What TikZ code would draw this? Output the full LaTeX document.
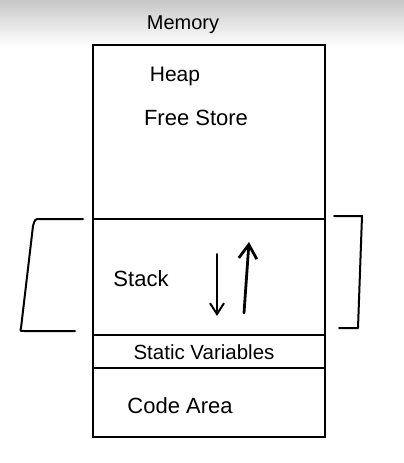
\documentclass[tikz,border=0pt]{standalone}
\usepackage{fontspec}
\setmainfont{Liberation Sans}
\usetikzlibrary{arrows.meta}
\begin{document}
\begin{tikzpicture}[x=1pt,y=-1pt,
  region/.style={draw, line width=2pt, inner sep=0pt, outer sep=0pt, minimum width=232pt},
  memtext/.style={inner sep=0pt, font=\fontsize{21}{24}\selectfont},
  pen/.style={line width=2pt, line cap=round, line join=round},
  growarrow/.style={pen, -{Straight Barb[length=11pt,width=14pt,line width=2pt]}}]
% page frame and soft grey band along the top
\useasboundingbox (0,0) rectangle (404,463);
\fill[white] (0,0) rectangle (404,463);
\shade[top color=black!22, bottom color=white] (0,0) rectangle (404,46);

% memory layout, top to bottom
\node[region, minimum height=174pt] (heap)   at (209,132)   {};
\node[region, minimum height=116pt] (stack)  at (209,277)   {};
\node[region, minimum height=33pt]  (static) at (209,351.5) {};
\node[region, minimum height=69pt]  (code)   at (209,402.5) {};

% labels
\node[memtext, font=\fontsize{20}{24}\selectfont] (title) at (183,25) {Memory};
\node[memtext] (heaplbl) at (175,76) {Heap};
\node[memtext, font=\fontsize{22}{24}\selectfont] (freelbl) at (196,118) {Free Store};
\node[memtext, font=\fontsize{22}{24}\selectfont] (stacklbl) at (141,279) {Stack};
\node[memtext, font=\fontsize{20.5}{24}\selectfont] (staticlbl) at (204,352) {Static Variables};
\node[memtext, font=\fontsize{22}{24}\selectfont] (codelbl) at (180,406) {Code Area};

% growth directions inside the stack
\coordinate (dtop) at (217,254);
\coordinate (dbot) at (217,316);
\coordinate (ubot) at (244,313);
\coordinate (utop) at (249,242);
\draw[growarrow] (dtop) -- (dbot);
\draw[pen, line width=2.8pt, -{Straight Barb[length=14pt,width=18pt,line width=2.8pt]}] (ubot) -- (utop);

% brackets on either side of the stack
\coordinate (l1) at (83,219);
\coordinate (l2) at (40,219);
\coordinate (l3) at (33,226);
\coordinate (l4) at (21,328);
\coordinate (l5) at (75,331);
\draw[pen] (l1) -- (l2) .. controls (35,219) .. (l3) -- (l4) .. controls (20,331) .. (24,331) -- (l5);
\coordinate (r1) at (334,216);
\coordinate (r2) at (362,216);
\coordinate (r3) at (358,328);
\coordinate (r4) at (339,328);
\draw[pen] (r1) -- (r2) -- (r3) -- (r4);
\end{tikzpicture}
\end{document}
